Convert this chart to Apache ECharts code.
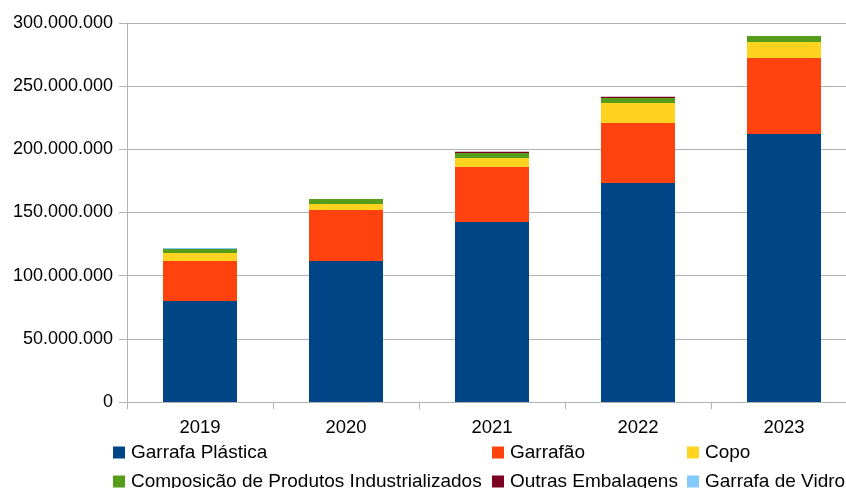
<!DOCTYPE html>
<html><head><meta charset="utf-8">
<script src="https://cdn.jsdelivr.net/npm/echarts@6/dist/echarts.min.js"></script>
<style>html,body{margin:0;padding:0;background:#fff}#c{width:846px;height:488px}</style>
</head><body><div id="c"></div>
<script>
const categories = ['2019','2020','2021','2022','2023'];
const garrafaPlastica = [80000000, 111600000, 142500000, 173400000, 212100000];
const garrafao = [31600000, 40400000, 43500000, 47400000, 60200000];
const copo = [6300000, 4700000, 7100000, 15800000, 12700000];
const composicao = [3200000, 4000000, 4000000, 4000000, 4700000];
const outras = [0, 0, 1000000, 1100000, 0];
const garrafaVidro = [800000, 0, 0, 0, 0];
const yTicks = [0, 50000000, 100000000, 150000000, 200000000, 250000000, 300000000];

const names = ['Garrafa Plástica','Garrafão','Copo','Composição de Produtos Industrializados','Outras Embalagens','Garrafa de Vidro'];
const colors = ['#004586','#ff420e','#ffd320','#579d1c','#7e0021','#83caff'];
const dataSets = [garrafaPlastica, garrafao, copo, composicao, outras, garrafaVidro];
const font = 'Liberation Sans, Arial, sans-serif';
function fmt(v){return String(v).replace(/\B(?=(\d{3})+(?!\d))/g,'.');}

const legendPos = [[113,443],[492,443],[687,443],[113,472],[492,472],[687,472]];
const legends = names.map((n,i)=>({
  data:[n], left:legendPos[i][0], top:legendPos[i][1], orient:'horizontal',
  icon:'rect', itemWidth:12, itemHeight:12, itemGap:0, padding:0,
  selectedMode:false,
  textStyle:{fontFamily:font, fontSize:19, color:'#000', padding:[0,0,0,1]}
}));

const chart = echarts.init(document.getElementById('c'), null, {renderer:'canvas'});
chart.setOption({
  animation:false,
  color:colors,
  textStyle:{fontFamily:font},
  legend:legends,
  grid:{left:127, width:730, top:23, bottom:86, containLabel:false, outerBoundsMode:'none'},
  xAxis:{type:'category', data:categories,
    axisLine:{lineStyle:{color:'#b3b3b3', width:1}},
    axisTick:{show:true, length:7, lineStyle:{color:'#b3b3b3'}, alignWithLabel:false},
    axisLabel:{fontFamily:font, fontSize:18.5, color:'#000', margin:16}},
  yAxis:{type:'value', min:yTicks[0], max:yTicks[yTicks.length-1], interval:50000000,
    axisLine:{show:true, lineStyle:{color:'#b3b3b3'}},
    axisTick:{show:true, length:8, lineStyle:{color:'#b3b3b3'}},
    splitLine:{lineStyle:{color:'#b3b3b3', width:1}},
    axisLabel:{fontFamily:font, fontSize:18, color:'#000', margin:14, formatter:fmt}},
  series:dataSets.map((d,i)=>({
    name:names[i], type:'bar', stack:'total', data:d, barWidth:74,
    itemStyle:{color:colors[i]}
  }))
});
</script></body></html>
